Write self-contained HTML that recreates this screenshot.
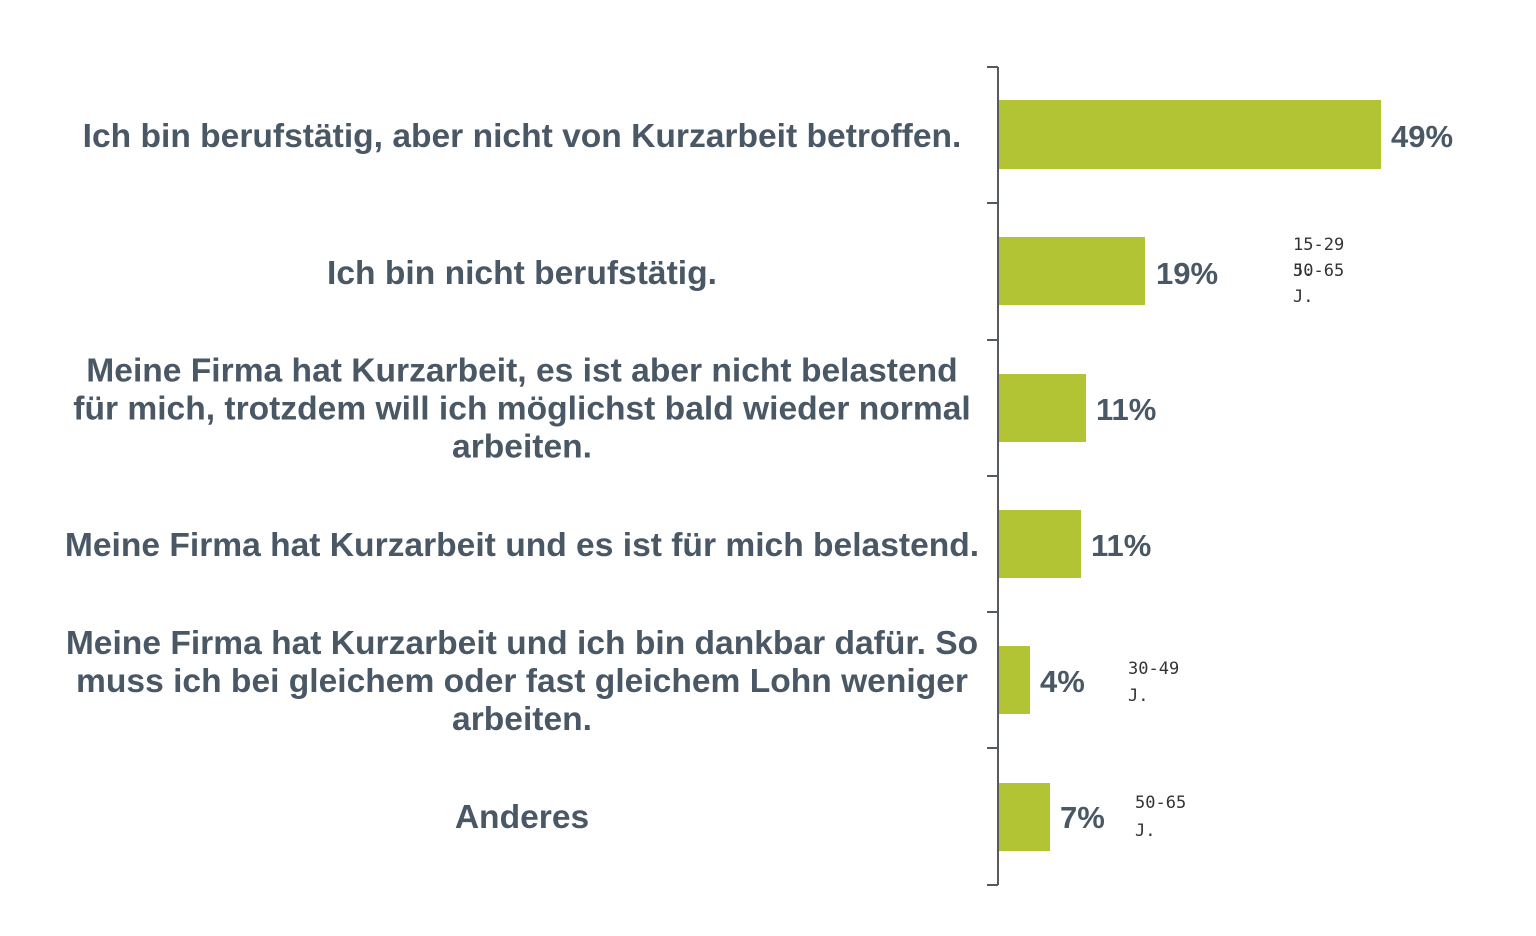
<!DOCTYPE html>
<html>
<head>
<meta charset="utf-8">
<style>
  html, body { margin: 0; padding: 0; background: #ffffff; }
  body { width: 1536px; height: 936px; overflow: hidden; }
  svg { display: block; }
  .lbl { font-family: "Liberation Sans", Arial, sans-serif; font-weight: bold; font-size: 33.6px; fill: #4a5866; }
  .pct { font-family: "Liberation Sans", Arial, sans-serif; font-weight: bold; font-size: 31px; fill: #4a5866; }
  .sm { font-family: "DejaVu Sans Mono", "Liberation Mono", monospace; font-size: 17px; fill: #333333; }
</style>
</head>
<body>
<svg width="1536" height="936" viewBox="0 0 1536 936" xmlns="http://www.w3.org/2000/svg">
  <rect width="1536" height="936" fill="#ffffff"/>

  <!-- bars -->
  <g fill="#b2c334">
    <rect x="999" y="100" width="382" height="69"/>
    <rect x="999" y="237" width="146" height="68"/>
    <rect x="999" y="374" width="87" height="68"/>
    <rect x="999" y="510" width="82" height="68"/>
    <rect x="999" y="646" width="31" height="68"/>
    <rect x="999" y="783" width="51" height="68"/>
  </g>

  <!-- axis -->
  <g stroke="#555a5e" stroke-width="2" fill="none">
    <line x1="998" y1="67" x2="998" y2="885"/>
    <line x1="987" y1="67" x2="998" y2="67"/>
    <line x1="987" y1="203" x2="998" y2="203"/>
    <line x1="987" y1="340" x2="998" y2="340"/>
    <line x1="987" y1="476" x2="998" y2="476"/>
    <line x1="987" y1="612" x2="998" y2="612"/>
    <line x1="987" y1="748" x2="998" y2="748"/>
    <line x1="987" y1="885" x2="998" y2="885"/>
  </g>

  <!-- category labels -->
  <g class="lbl" text-anchor="middle">
    <text x="522" y="147">Ich bin berufstätig, aber nicht von Kurzarbeit betroffen.</text>
    <text x="522" y="284">Ich bin nicht berufstätig.</text>
    <text x="522" y="381.5">Meine Firma hat Kurzarbeit, es ist aber nicht belastend</text>
    <text x="522" y="419.5">für mich, trotzdem will ich möglichst bald wieder normal</text>
    <text x="522" y="457.5">arbeiten.</text>
    <text x="522" y="556">Meine Firma hat Kurzarbeit und es ist für mich belastend.</text>
    <text x="522" y="654">Meine Firma hat Kurzarbeit und ich bin dankbar dafür. So</text>
    <text x="522" y="692">muss ich bei gleichem oder fast gleichem Lohn weniger</text>
    <text x="522" y="730">arbeiten.</text>
    <text x="522" y="828">Anderes</text>
  </g>

  <!-- value labels -->
  <g class="pct">
    <text x="1391" y="147">49%</text>
    <text x="1156" y="284">19%</text>
    <text x="1096" y="420">11%</text>
    <text x="1091" y="556">11%</text>
    <text x="1040" y="692">4%</text>
    <text x="1060" y="828">7%</text>
  </g>

  <!-- small age annotations -->
  <g class="sm">
    <text x="1293" y="250">15-29</text>
    <text x="1293" y="276">J.</text>
    <text x="1293" y="276">50-65</text>
    <text x="1293" y="302">J.</text>
    <text x="1128" y="674">30-49</text>
    <text x="1128" y="701">J.</text>
    <text x="1135" y="808">50-65</text>
    <text x="1135" y="836">J.</text>
  </g>
</svg>
</body>
</html>
